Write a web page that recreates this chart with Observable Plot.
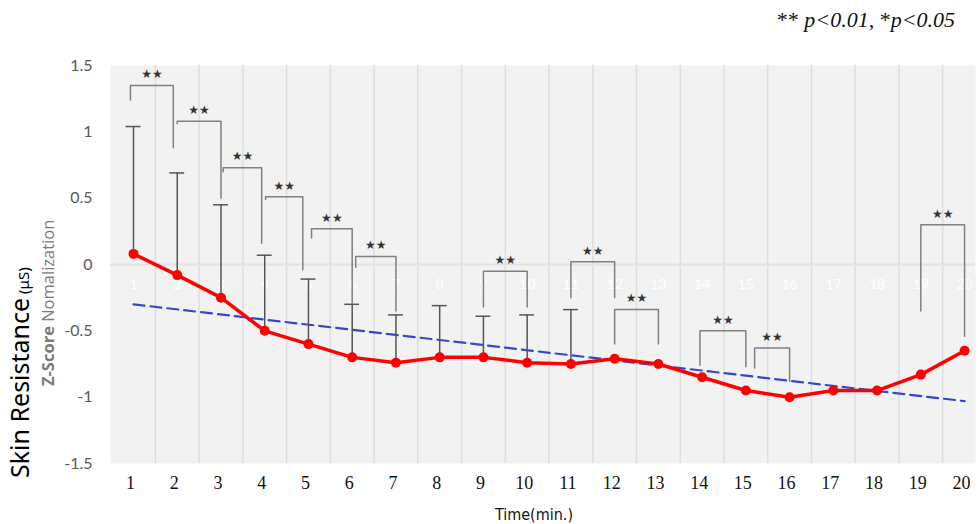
<!DOCTYPE html>
<html>
<head>
<meta charset="utf-8">
<script src="https://cdn.jsdelivr.net/npm/d3@7"></script>
<script src="https://cdn.jsdelivr.net/npm/@observablehq/plot@0.6"></script>
<style>
  html, body { margin: 0; padding: 0; background: #ffffff; }
  #chart { width: 978px; height: 524px; }
</style>
</head>
<body>
<div id="chart"></div>
<script>
// ---- data ----
const times = [1,2,3,4,5,6,7,8,9,10,11,12,13,14,15,16,17,18,19,20];
const zMeans = [0.08, -0.08, -0.25, -0.50, -0.60, -0.70, -0.74, -0.70, -0.70, -0.74,
                -0.75, -0.71, -0.75, -0.85, -0.95, -1.00, -0.95, -0.95, -0.83, -0.65];
const errTops = [1.04, 0.69, 0.45, 0.07, -0.11, -0.30, -0.38, -0.31, -0.39, -0.38,
                 -0.34, null, null, null, null, null, null, null, null, null];
const trendTimes = [1, 20];
const trendValues = [-0.30, -1.03];
const yTicks = [-1.5, -1, -0.5, 0, 0.5, 1, 1.5];

// significance brackets (** p<0.01)
const bracketFrom     = [0.93, 2.00, 3.05, 4.02, 5.07, 6.08, 9.00, 11.00, 12.00, 13.95, 15.20, 19.00];
const bracketTo       = [1.91, 3.00, 3.93, 4.87, 6.00, 7.00, 10.00, 12.00, 13.00, 15.00, 16.00, 20.00];
const bracketTop      = [1.35, 1.08, 0.73, 0.51, 0.27, 0.06, -0.05, 0.02, -0.34, -0.50, -0.63, 0.30];
const bracketLeftEnd  = [1.24, 1.06, 0.70, 0.49, 0.20, -0.02, -0.32, -0.25, -0.60, -0.76, -0.78, -0.35];
const bracketRightEnd = [0.88, 0.50, 0.16, -0.04, -0.29, -0.35, -0.32, -0.25, -0.60, -0.77, -0.88, -0.54];
const bracketLabel = "★★";

// ---- tables built from the arrays ----
const series = times.map((t, i) => ({t, mean: zMeans[i], top: errTops[i]}));
const errData = series.filter(d => d.top !== null);
const trend = trendTimes.map((t, i) => ({t, v: trendValues[i]}));
const brackets = bracketFrom.map((f, i) => ({
  id: i, from: f, to: bracketTo[i], top: bracketTop[i],
  l: bracketLeftEnd[i], r: bracketRightEnd[i]
}));
const bracketPath = brackets.flatMap(b => [
  {id: b.id, x: b.from, y: b.l},
  {id: b.id, x: b.from, y: b.top},
  {id: b.id, x: b.to, y: b.top},
  {id: b.id, x: b.to, y: b.r}
]);
const gridTimes = times.slice(0, -1).map(t => t + 0.5);

const plot = Plot.plot({
  width: 978,
  height: 524,
  marginLeft: 110,
  marginRight: 3,
  marginTop: 65,
  marginBottom: 61,
  style: {background: "transparent", overflow: "visible"},
  x: {type: "linear", domain: [0.474, 20.25]},
  y: {domain: [-1.5, 1.5]},
  marks: [
    Plot.frame({fill: "#f2f2f2", stroke: null}),
    Plot.ruleX(gridTimes, {x: d => d, stroke: "#dedede", strokeWidth: 1.5}),
    Plot.ruleY([0], {stroke: "#e2e2e2", strokeWidth: 2}),
    Plot.text(times, {x: d => d, y: () => 0, dy: 20, text: d => String(d),
      fill: "#ffffff", fontSize: 14, fontFamily: "Lato, 'Open Sans', sans-serif"}),
    Plot.axisY({ticks: yTicks, tickSize: 0, tickPadding: 18, fontSize: 16,
      fill: "#595959", fontFamily: "Lato, 'Open Sans', sans-serif",
      tickFormat: d => String(d), label: null}),
    Plot.axisX({ticks: times, tickSize: 0, tickPadding: 13, fontSize: 18,
      fill: "#111", fontFamily: "'Liberation Serif', 'DejaVu Serif', serif",
      tickFormat: d => String(d), label: null, dx: -3}),
    // trend line
    Plot.line(trend, {x: "t", y: "v", stroke: "#3547cf", strokeWidth: 2.2,
      strokeDasharray: "11,6"}),
    // error bars
    Plot.ruleX(errData, {x: "t", y1: "mean", y2: "top", stroke: "#555", strokeWidth: 1.5}),
    Plot.ruleY(errData, {y: "top", x1: d => d.t - 0.17, x2: d => d.t + 0.17,
      stroke: "#555", strokeWidth: 1.5}),
    // brackets
    Plot.line(bracketPath, {x: "x", y: "y", z: "id", stroke: "#808080",
      strokeWidth: 1.5, curve: "linear"}),
    Plot.text(brackets, {x: d => (d.from + d.to) / 2, y: "top", dy: -11,
      text: () => bracketLabel, fontSize: 12, fill: "#333",
      fontFamily: "'DejaVu Sans', sans-serif"}),
    // mean line
    Plot.line(series, {x: "t", y: "mean", stroke: "#ff0000", strokeWidth: 3.5}),
    Plot.dot(series, {x: "t", y: "mean", r: 5, fill: "#ff0000", stroke: null})
  ]
});

document.getElementById("chart").appendChild(plot);

// ---- titles and legend ----
const svg = d3.select(plot);

const yt = svg.append("text")
  .attr("transform", "translate(29,478) rotate(-90)")
  .attr("text-anchor", "start")
  .attr("font-family", "'Noto Sans', 'Open Sans', sans-serif")
  .attr("fill", "#000");
yt.append("tspan").attr("font-size", 25).text("Skin Resistance");
yt.append("tspan").attr("font-size", 15).text(" (μS)");

const zt = svg.append("text")
  .attr("transform", "translate(54,386) rotate(-90)")
  .attr("text-anchor", "start")
  .attr("font-family", "'Open Sans', 'Noto Sans', sans-serif")
  .attr("font-size", 16.5)
  .attr("fill", "#7a7a7a");
zt.append("tspan").attr("font-weight", "bold").text("Z-Score");
zt.append("tspan").text(" Nomalization");

svg.append("text")
  .attr("x", 534).attr("y", 520)
  .attr("text-anchor", "middle")
  .attr("font-family", "'Liberation Sans Narrow', 'DejaVu Sans Condensed', sans-serif")
  .attr("font-stretch", "condensed")
  .attr("font-size", 16)
  .attr("fill", "#111")
  .text("Time(min.)");

const lg = svg.append("text")
  .attr("x", 955).attr("y", 27)
  .attr("text-anchor", "end")
  .attr("font-family", "'Liberation Serif', 'DejaVu Serif', serif")
  .attr("font-size", 22)
  .attr("fill", "#111");
lg.append("tspan").text("** ");
lg.append("tspan").attr("font-style", "italic").text("p<0.01, ");
lg.append("tspan").text("*");
lg.append("tspan").attr("font-style", "italic").text("p<0.05");
</script>
</body>
</html>
